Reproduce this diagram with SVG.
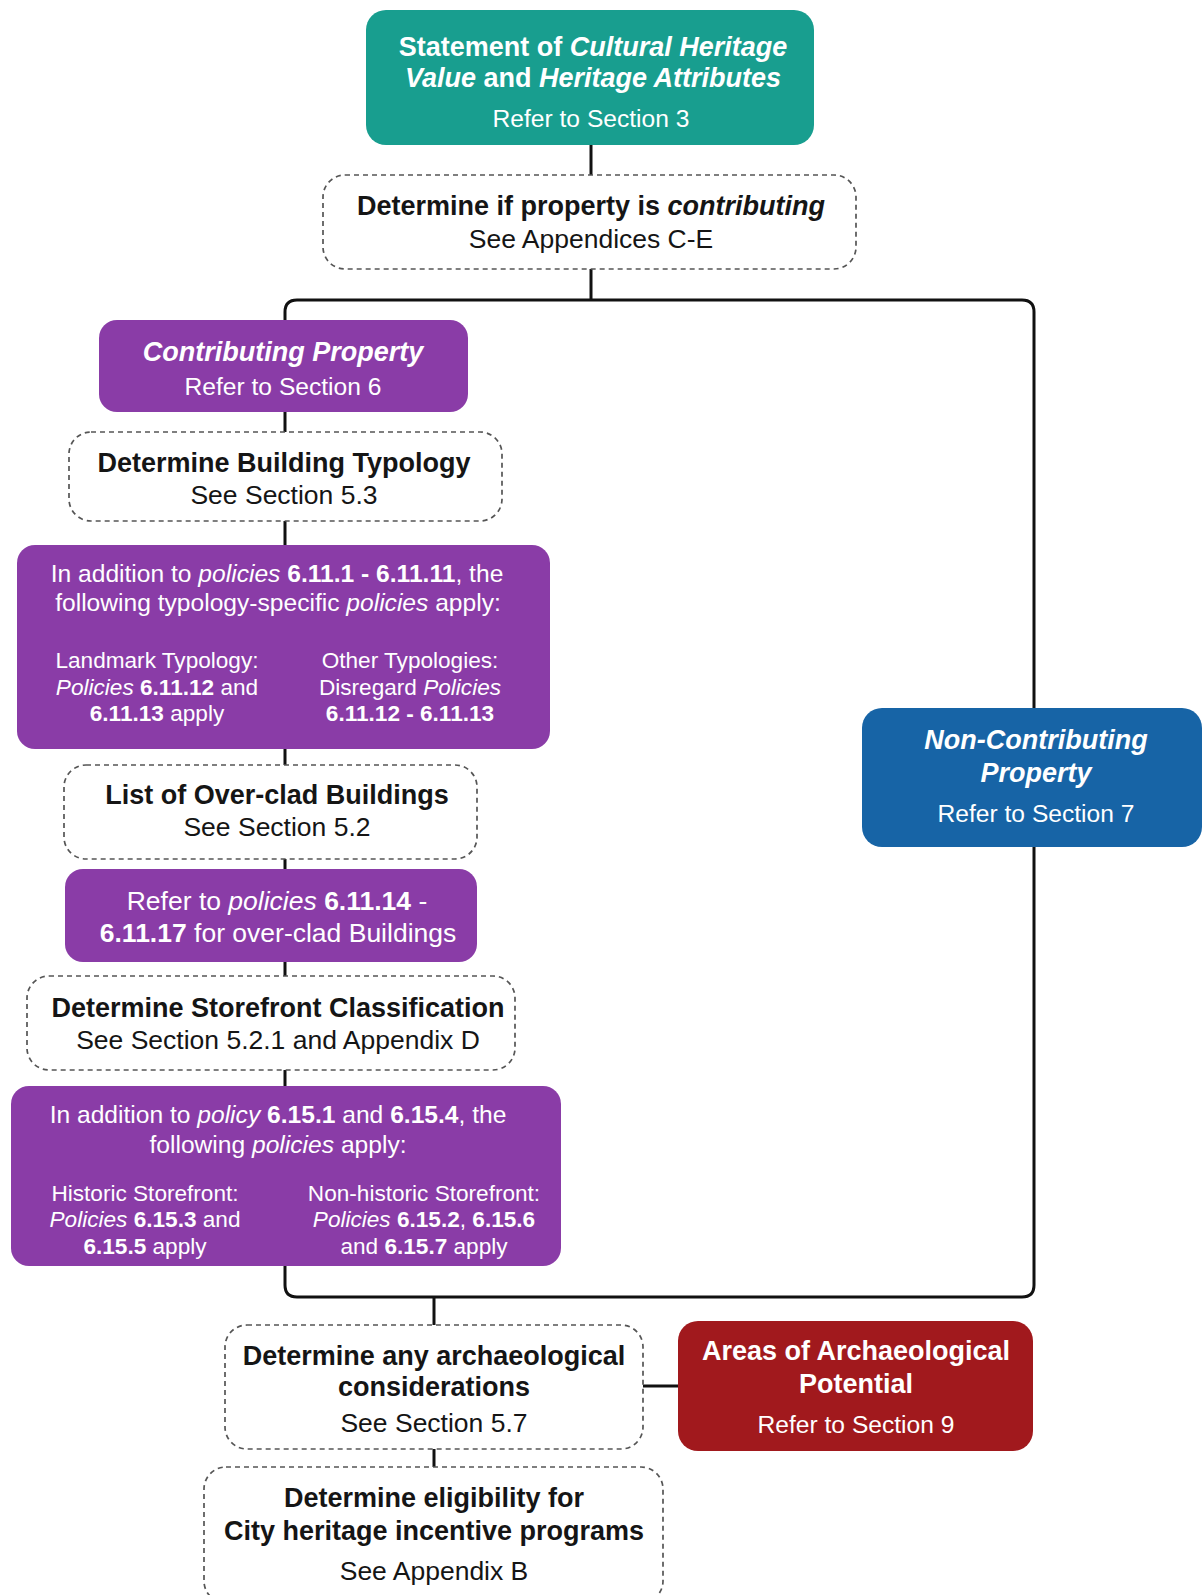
<svg xmlns="http://www.w3.org/2000/svg" width="1204" height="1595" viewBox="0 0 1204 1595">
<style>
text{font-family:"Liberation Sans",Arial,sans-serif;text-anchor:middle}
.w{fill:#ffffff}
.k{fill:#151515}
.b{font-weight:bold}
.i{font-style:italic}
.f26{font-size:26.5px}
.b.f26{font-size:27px}
.f24{font-size:24.6px}
.f22{font-size:22.6px}
.dash{fill:#ffffff;stroke:#555555;stroke-width:1.7;stroke-dasharray:5 4}
.teal{fill:#189e8f}
.purple{fill:#8a3ca7}
.blue{fill:#1764a6}
.red{fill:#a1191d}
.conn{fill:none;stroke:#111111;stroke-width:3;stroke-linejoin:round}
</style>
<rect width="1204" height="1595" fill="#ffffff"/>
<g id="connectors">
<path class="conn" d="M591 145 V300"/>
<path class="conn" d="M285 320 V312 Q285 300 297 300 H1022 Q1034 300 1034 312 V1285 Q1034 1297 1022 1297 H297 Q285 1297 285 1285 V320"/>
<path class="conn" d="M434 1297 V1467"/>
<path class="conn" d="M643 1386 H678"/>
</g>
<g id="n-statement">
<rect class="teal" x="366" y="10" width="448" height="135" rx="20"/>
<text class="w b f26" x="593" y="56">Statement of <tspan class="i">Cultural Heritage</tspan></text>
<text class="w b f26" x="593" y="87"><tspan class="i">Value</tspan> and <tspan class="i">Heritage Attributes</tspan></text>
<text class="w f24" x="591" y="127">Refer to Section 3</text>
</g>
<g id="n-contributing-q">
<rect class="dash" x="323" y="175" width="533" height="94" rx="22"/>
<text class="k b f26" x="591" y="215">Determine if property is <tspan class="i">contributing</tspan></text>
<text class="k f26" x="591" y="248">See Appendices C-E</text>
</g>
<g id="n-contributing">
<rect class="purple" x="99" y="320" width="369" height="92" rx="18"/>
<text class="w b i f26" x="283" y="361">Contributing Property</text>
<text class="w f24" x="283" y="395">Refer to Section 6</text>
</g>
<g id="n-typology">
<rect class="dash" x="69" y="432" width="433" height="89" rx="22"/>
<text class="k b f26" x="284" y="472">Determine Building Typology</text>
<text class="k f26" x="284" y="504">See Section 5.3</text>
</g>
<g id="n-typology-policies">
<rect class="purple" x="17" y="545" width="533" height="204" rx="18"/>
<text class="w f24" x="277" y="582">In addition to <tspan class="i">policies</tspan> <tspan class="b">6.11.1 - 6.11.11</tspan>, the</text>
<text class="w f24" x="278" y="611">following typology-specific <tspan class="i">policies</tspan> apply:</text>
<text class="w f22" x="157" y="668">Landmark Typology:</text>
<text class="w f22" x="157" y="695"><tspan class="i">Policies</tspan> <tspan class="b">6.11.12</tspan> and</text>
<text class="w f22" x="157" y="721"><tspan class="b">6.11.13</tspan> apply</text>
<text class="w f22" x="410" y="668">Other Typologies:</text>
<text class="w f22" x="410" y="695">Disregard <tspan class="i">Policies</tspan></text>
<text class="w b f22" x="410" y="721">6.11.12 - 6.11.13</text>
</g>
<g id="n-overclad-list">
<rect class="dash" x="64" y="765" width="413" height="94" rx="22"/>
<text class="k b f26" x="277" y="804">List of Over-clad Buildings</text>
<text class="k f26" x="277" y="836">See Section 5.2</text>
</g>
<g id="n-overclad-policies">
<rect class="purple" x="65" y="869" width="412" height="93" rx="18"/>
<text class="w f26" x="277" y="910">Refer to <tspan class="i">policies</tspan> <tspan class="b">6.11.14</tspan> -</text>
<text class="w f26" x="278" y="942"><tspan class="b">6.11.17</tspan> for over-clad Buildings</text>
</g>
<g id="n-storefront">
<rect class="dash" x="27" y="976" width="488" height="94" rx="22"/>
<text class="k b f26" x="278" y="1017">Determine Storefront Classification</text>
<text class="k f26" x="278" y="1049">See Section 5.2.1 and Appendix D</text>
</g>
<g id="n-storefront-policies">
<rect class="purple" x="11" y="1086" width="550" height="180" rx="18"/>
<text class="w f24" x="278" y="1123">In addition to <tspan class="i">policy</tspan> <tspan class="b">6.15.1</tspan> and <tspan class="b">6.15.4</tspan>, the</text>
<text class="w f24" x="278" y="1153">following <tspan class="i">policies</tspan> apply:</text>
<text class="w f22" x="145" y="1201">Historic Storefront:</text>
<text class="w f22" x="145" y="1227"><tspan class="i">Policies</tspan> <tspan class="b">6.15.3</tspan> and</text>
<text class="w f22" x="145" y="1254"><tspan class="b">6.15.5</tspan> apply</text>
<text class="w f22" x="424" y="1201">Non-historic Storefront:</text>
<text class="w f22" x="424" y="1227"><tspan class="i">Policies</tspan> <tspan class="b">6.15.2</tspan>, <tspan class="b">6.15.6</tspan></text>
<text class="w f22" x="424" y="1254">and <tspan class="b">6.15.7</tspan> apply</text>
</g>
<g id="n-noncontributing">
<rect class="blue" x="862" y="708" width="340" height="139" rx="20"/>
<text class="w b i f26" x="1036" y="749">Non-Contributing</text>
<text class="w b i f26" x="1036" y="782">Property</text>
<text class="w f24" x="1036" y="822">Refer to Section 7</text>
</g>
<g id="n-archaeology">
<rect class="dash" x="225" y="1325" width="418" height="124" rx="22"/>
<text class="k b f26" x="434" y="1365">Determine any archaeological</text>
<text class="k b f26" x="434" y="1396">considerations</text>
<text class="k f26" x="434" y="1432">See Section 5.7</text>
</g>
<g id="n-archaeology-areas">
<rect class="red" x="678" y="1321" width="355" height="130" rx="20"/>
<text class="w b f26" x="856" y="1360">Areas of Archaeological</text>
<text class="w b f26" x="856" y="1393">Potential</text>
<text class="w f24" x="856" y="1433">Refer to Section 9</text>
</g>
<g id="n-incentives">
<rect class="dash" x="204" y="1467" width="459" height="136" rx="22"/>
<text class="k b f26" x="434" y="1507">Determine eligibility for</text>
<text class="k b f26" x="434" y="1540">City heritage incentive programs</text>
<text class="k f26" x="434" y="1580">See Appendix B</text>
</g>
</svg>
